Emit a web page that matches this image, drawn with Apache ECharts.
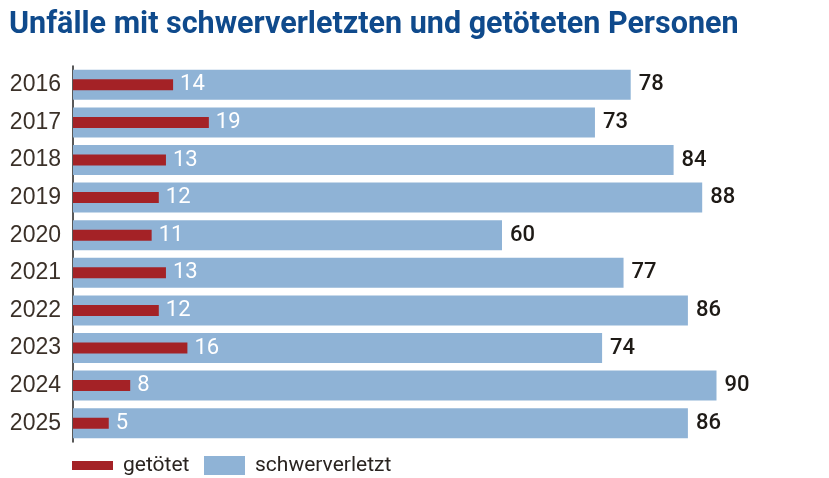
<!DOCTYPE html>
<html>
<head>
<meta charset="utf-8">
<script src="https://cdn.jsdelivr.net/npm/echarts@6/dist/echarts.min.js"></script>
<style>
  html, body { margin: 0; padding: 0; background: #fff; }
  #chart { width: 829px; height: 478px; }
</style>
</head>
<body>
<div id="chart"></div>
<script>
var years = ['2016','2017','2018','2019','2020','2021','2022','2023','2024','2025'];
var getoetet = [14, 19, 13, 12, 11, 13, 12, 16, 8, 5];
var schwerverletzt = [78, 73, 84, 88, 60, 77, 86, 74, 90, 86];

var chart = echarts.init(document.getElementById('chart'));
chart.setOption({
    backgroundColor: '#fff',
    animation: false,
    title: {
        text: 'Unfälle mit schwerverletzten und getöteten Personen',
        left: 4,
        top: 5,
        textStyle: {
            color: '#0f4a8c',
            fontFamily: 'Roboto',
            fontWeight: 'bold',
            fontSize: 30.5
        }
    },
    legend: [
        {
            left: 67, top: 450,
            itemWidth: 41, itemHeight: 9,
            icon: 'rect',
            data: ['getötet'],
            textStyle: { color: '#2a2420', fontSize: 21, fontFamily: 'Roboto', padding: [0, 0, 0, 5] }
        },
        {
            left: 199, top: 450,
            itemWidth: 41, itemHeight: 19,
            icon: 'rect',
            data: ['schwerverletzt'],
            textStyle: { color: '#2a2420', fontSize: 21, fontFamily: 'Roboto', padding: [0, 0, 0, 5] }
        }
    ],
    grid: { left: 73, right: 41, top: 66, bottom: 36 },
    xAxis: {
        type: 'value',
        min: 0,
        max: 100,
        show: false
    },
    yAxis: [
        {
            type: 'category',
            data: years,
            inverse: true,
            axisLine: { show: true, lineStyle: { color: '#222', width: 1.5 } },
            axisTick: { show: false },
            axisLabel: { color: '#3b3129', fontSize: 23, fontFamily: 'Liberation Sans', margin: 12 }
        },
        {
            type: 'category',
            data: years,
            inverse: true,
            position: 'left',
            show: false
        }
    ],
    series: [
        {
            name: 'schwerverletzt',
            type: 'bar',
            yAxisIndex: 0,
            data: schwerverletzt,
            barWidth: 30,
            itemStyle: { color: '#8fb3d6' },
            label: {
                show: true,
                position: 'right',
                distance: 8,
                color: '#1e1a16',
                fontSize: 22,
                fontFamily: 'Roboto',
                fontWeight: 500
            }
        },
        {
            name: 'getötet',
            type: 'bar',
            yAxisIndex: 1,
            data: getoetet,
            barWidth: 11,
            itemStyle: { color: '#a42226' },
            label: {
                show: true,
                position: 'right',
                distance: 7,
                color: '#fff',
                fontSize: 22,
                fontFamily: 'Roboto'
            }
        }
    ]
});
</script>
</body>
</html>
